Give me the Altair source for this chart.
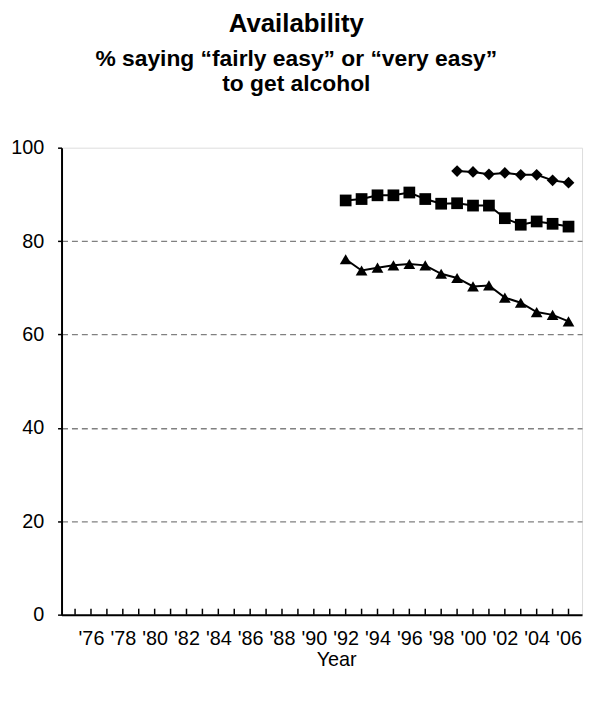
import json
import altair as alt
import pandas as pd

# ---- data ----
years_a = [1999, 2000, 2001, 2002, 2003, 2004, 2005, 2006]
series_a = [95.0, 94.8, 94.3, 94.6, 94.2, 94.2, 93.0, 92.5]          # diamonds

years_b = list(range(1992, 2007))
series_b = [88.7, 89.0, 89.8, 89.8, 90.4, 89.0, 88.0, 88.1, 87.6, 87.6,
            84.9, 83.5, 84.2, 83.7, 83.1]                            # squares
series_c = [76.1, 73.7, 74.3, 74.8, 75.1, 74.8, 73.0, 72.1, 70.3, 70.5,
            67.9, 66.8, 64.8, 64.2, 62.8]                            # triangles

series_names = ["A", "B", "C"]
series_shapes = ["diamond", "square", "triangle-up"]

tick_years = list(range(1975, 2007))
label_years = list(range(1976, 2007, 2))
year_labels = ["'76", "'78", "'80", "'82", "'84", "'86", "'88", "'90",
               "'92", "'94", "'96", "'98", "'00", "'02", "'04", "'06"]
y_ticks = [0, 20, 40, 60, 80, 100]

title_text = "Availability"
subtitle_lines = ["% saying \u201cfairly easy\u201d or \u201cvery easy\u201d", "to get alcohol"]
x_title = "Year"

# ---- tables ----
rows = []
for y, v in zip(years_a, series_a):
    rows.append({"year": y, "value": v, "series": "A"})
for y, v in zip(years_b, series_b):
    rows.append({"year": y, "value": v, "series": "B"})
for y, v in zip(years_b, series_c):
    rows.append({"year": y, "value": v, "series": "C"})
df = pd.DataFrame(rows)
ticks_df = pd.DataFrame({"year": tick_years})

W, H = 525, 471
FONT = "Liberation Sans"

label_expr = json.dumps(year_labels) + "[round((datum.value - 1976) / 2)]"

xscale = alt.Scale(domain=[1974.15, 2006.85], nice=False, zero=False)
yscale = alt.Scale(domain=[0, 100], nice=False)

x_axis = alt.Axis(
    values=label_years, labelExpr=label_expr, ticks=False, grid=False,
    domainColor="black", domainWidth=2, labelFont=FONT, labelFontSize=20,
    labelColor="black", labelPadding=14, labelFlush=False, labelOverlap=False,
    labelBound=False,
    title=x_title, titleFont=FONT, titleFontSize=20, titleFontWeight="normal",
    titleColor="black", titlePadding=1, titleX=277, titleAlign="center",
)
y_axis = alt.Axis(
    values=y_ticks, grid=True, gridColor="#808080", gridDash=[6, 4], gridWidth=1.3,
    gridOpacity={"condition": {"test": "datum.value == 0 || datum.value == 100", "value": 0}, "value": 1},
    ticks=True, tickColor="black", tickSize=4, tickWidth=1.5,
    domainColor="black", domainWidth=2, labelFont=FONT, labelFontSize=20,
    labelColor="black", labelPadding=14, title=None, minExtent=51, maxExtent=51,
)

base = alt.Chart(df)
lines = base.mark_line(color="black", strokeWidth=2).encode(
    x=alt.X("year:Q", scale=xscale, axis=x_axis),
    y=alt.Y("value:Q", scale=yscale, axis=y_axis),
    detail="series:N",
)
points = base.mark_point(filled=True, color="black", opacity=1, size=140).encode(
    x=alt.X("year:Q", scale=xscale, axis=x_axis),
    y=alt.Y("value:Q", scale=yscale, axis=y_axis),
    shape=alt.Shape("series:N", scale=alt.Scale(domain=series_names, range=series_shapes), legend=None),
)
ticks = alt.Chart(ticks_df).mark_rule(color="black", strokeWidth=1.5).encode(
    x=alt.X("year:Q", scale=xscale, axis=x_axis),
    y=alt.value(H - 6),
    y2=alt.value(H),
)

chart = alt.layer(ticks, lines, points).properties(
    width=W, height=H,
    title=alt.TitleParams(
        text=title_text, subtitle=subtitle_lines, anchor="middle", frame="bounds",
        font=FONT, fontSize=26, fontWeight="bold", color="black",
        subtitleFont=FONT, subtitleFontSize=23, subtitleFontWeight="bold",
        subtitleColor="black", subtitlePadding=12, subtitleLineHeight=25, offset=42,
    ),
).configure_view(stroke="black", strokeWidth=2).configure(
    padding={"left": 2, "top": 0, "right": 5, "bottom": 5}
)

chart.save("out.html", embed_options={"renderer": "svg", "actions": False})
